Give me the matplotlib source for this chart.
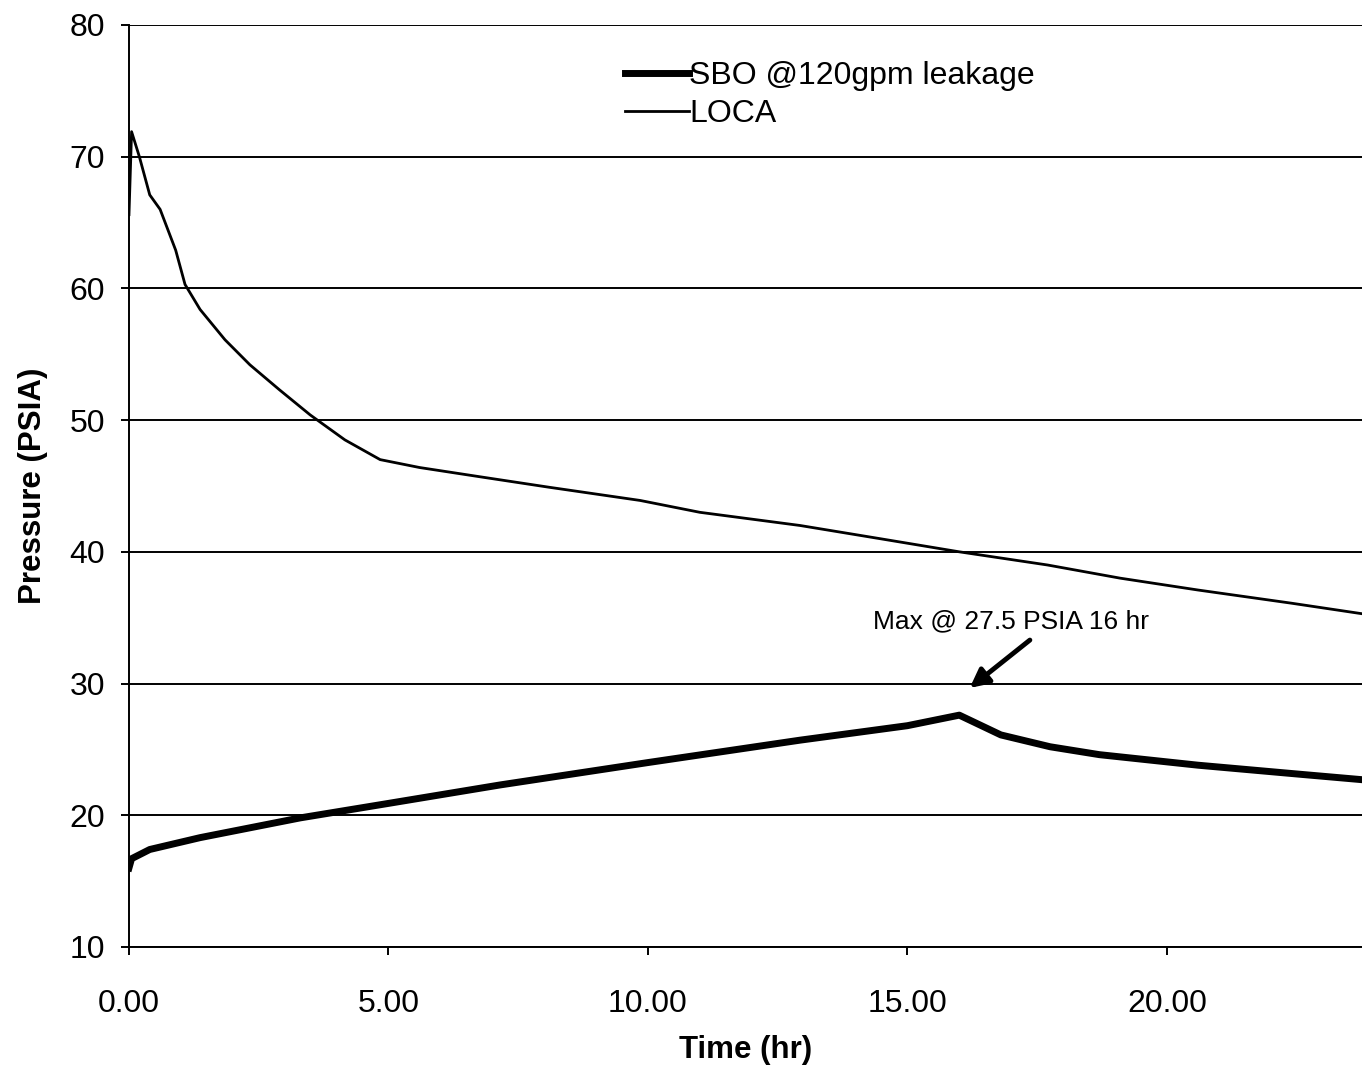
import matplotlib.pyplot as plt

plt.rcParams['font.family'] = ['Liberation Sans', 'DejaVu Sans']

# LOCA (thin line)
loca_t = [0.0, 0.05, 0.2, 0.4, 0.6, 0.9, 1.08, 1.37, 1.85, 2.33, 2.9, 3.49, 4.16,
          4.84, 5.6, 6.76, 8.1, 9.85, 11.0, 12.93, 14.47, 16.0, 17.7, 19.1, 20.6,
          22.4, 23.76]
loca_p = [65.6, 71.9, 70.0, 67.1, 66.0, 62.9, 60.3, 58.4, 56.1, 54.2, 52.3, 50.4, 48.5,
          47.0, 46.4, 45.7, 44.9, 43.9, 43.0, 42.0, 41.0, 40.0, 39.0, 38.0, 37.1,
          36.1, 35.3]

# SBO @120gpm leakage (thick line)
sbo_t = [0.0, 0.05, 0.4, 1.37, 3.3, 5.0, 7.15, 10.0, 12.93, 15.0, 16.0, 16.8, 17.75,
         18.7, 20.6, 22.6, 23.76]
sbo_p = [16.0, 16.7, 17.4, 18.3, 19.8, 20.9, 22.3, 24.0, 25.7, 26.8, 27.6, 26.1, 25.2,
         24.6, 23.8, 23.1, 22.7]

x_ticks = [0, 5, 10, 15, 20]
y_ticks = [10, 20, 30, 40, 50, 60, 70, 80]

fig = plt.figure(figsize=(13.62, 10.67), dpi=100)
ax = fig.add_axes([0.0947, 0.1125, 0.9053, 0.8641])

ax.plot(sbo_t, sbo_p, color='black', lw=5, label='SBO @120gpm leakage')
ax.plot(loca_t, loca_p, color='black', lw=2, label='LOCA')

ax.set_xlim(0, 23.76)
ax.set_ylim(10, 80)
ax.set_xticks(x_ticks)
ax.set_xticklabels(['%.2f' % v for v in x_ticks])
ax.set_yticks(y_ticks)
ax.yaxis.grid(True, color='black', lw=1.4)
ax.set_axisbelow(True)
for s in ['top', 'right']:
    ax.spines[s].set_visible(False)
ax.spines['left'].set_linewidth(1.4)
ax.spines['bottom'].set_linewidth(1.4)
ax.tick_params(axis='both', labelsize=23, length=6, width=1.4)
ax.tick_params(axis='x', pad=24)
ax.tick_params(axis='y', pad=11)

ax.set_xlabel('Time (hr)', fontsize=22.5, fontweight='bold', labelpad=12)
ax.set_ylabel('Pressure (PSIA)', fontsize=22.5, fontweight='bold', labelpad=16)

ax.legend(loc='upper left', bbox_to_anchor=(0.379, 0.992), frameon=False,
          fontsize=23, handlelength=2.0, handletextpad=0.0, labelspacing=0.25)

ax.text(17.0, 34.7, 'Max @ 27.5 PSIA 16 hr', fontsize=19, ha='center', va='center')
ax.annotate('', xy=(16.2, 29.66), xytext=(17.36, 33.3),
            arrowprops=dict(arrowstyle='-|>', color='black', lw=3.5,
                            mutation_scale=28, shrinkA=0, shrinkB=0))

fig.savefig('out.png', dpi=100)
